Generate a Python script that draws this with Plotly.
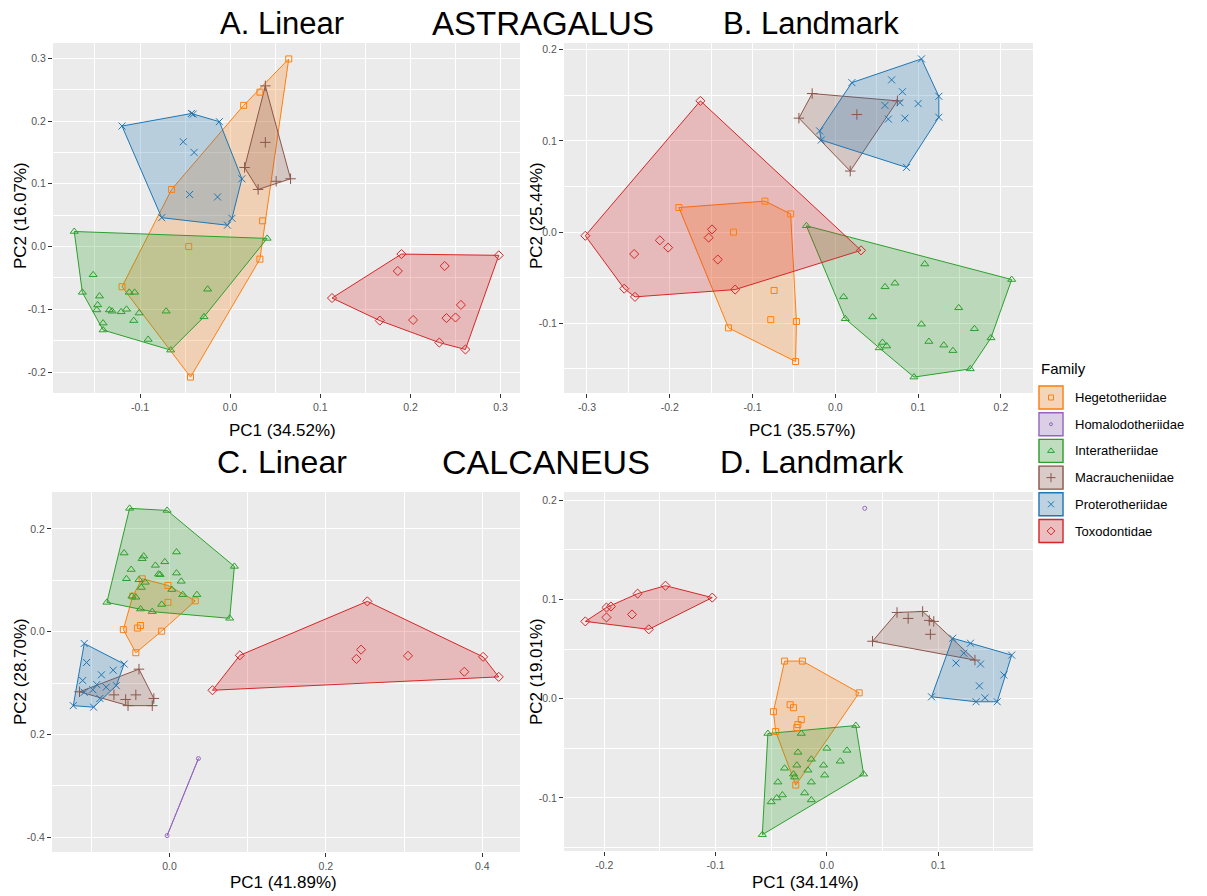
import plotly.graph_objects as go

W, H = 1207, 896

FAMILIES = ["Hegetotheriidae", "Homalodotheriidae", "Interatheriidae",
            "Macraucheniidae", "Proterotheriidae", "Toxodontidae"]
COLORS = ["#ff7f0e", "#9467bd", "#2ca02c", "#8c564b", "#1f77b4", "#d62728"]
SYMBOLS = ["square-open", "circle-open", "triangle-up-open",
           "cross-thin-open", "x-thin-open", "diamond-open"]
MSIZES = [6, 4, 7, 7.5, 7, 7]

# ---------------- A. Astragalus, linear measurements ----------------
A_HEG = [(0.065, 0.299), (0.015, 0.225), (0.033, 0.246), (-0.065, 0.091), (0.036, 0.041),
         (-0.046, 0.000), (0.033, -0.020), (-0.120, -0.064), (-0.044, -0.208)]
A_MAC = [(0.039, 0.256), (0.039, 0.166), (0.016, 0.126), (0.031, 0.091), (0.051, 0.104),
         (0.067, 0.108)]
A_PRO = [(-0.120, 0.192), (-0.043, 0.212), (-0.041, 0.211), (-0.012, 0.199), (-0.052, 0.167),
         (-0.040, 0.150), (0.013, 0.108), (-0.045, 0.083), (-0.014, 0.079), (-0.076, 0.046),
         (0.002, 0.045), (-0.003, 0.034)]
A_INT = [(-0.173, 0.024), (0.041, 0.013), (-0.152, -0.045), (-0.164, -0.073), (-0.145, -0.079),
         (-0.147, -0.093), (-0.148, -0.101), (-0.134, -0.101), (-0.131, -0.103), (-0.121, -0.104),
         (-0.115, -0.100), (-0.112, -0.073), (-0.106, -0.073), (-0.101, -0.106), (-0.107, -0.118),
         (-0.141, -0.122), (-0.141, -0.133), (-0.091, -0.148), (-0.066, -0.165), (-0.071, -0.103),
         (-0.029, -0.112), (-0.025, -0.068)]
A_TOX = [(0.113, -0.082), (0.190, -0.012), (0.298, -0.014), (0.186, -0.039), (0.238, -0.031),
         (0.256, -0.093), (0.250, -0.113), (0.240, -0.114), (0.203, -0.117), (0.166, -0.118),
         (0.232, -0.153), (0.261, -0.164)]

# ---------------- B. Astragalus, landmarks ----------------
B_HEG = [(-0.189, 0.027), (-0.085, 0.034), (-0.123, 0.000), (-0.054, 0.020), (-0.074, -0.064),
         (-0.078, -0.096), (-0.047, -0.098), (-0.129, -0.105), (-0.048, -0.142)]
B_INT = [(-0.035, 0.007), (0.213, -0.052), (0.108, -0.035), (0.010, -0.071), (0.060, -0.060),
         (0.072, -0.056), (0.012, -0.095), (0.045, -0.093), (0.104, -0.101), (0.149, -0.083),
         (0.168, -0.106), (0.113, -0.120), (0.131, -0.124), (0.142, -0.130), (0.188, -0.116),
         (0.057, -0.121), (0.062, -0.125), (0.053, -0.127), (0.163, -0.150), (0.095, -0.159)]
B_MAC = [(-0.028, 0.152), (-0.044, 0.125), (0.026, 0.129), (0.075, 0.144), (0.018, 0.067)]
B_PRO = [(0.020, 0.164), (0.104, 0.190), (0.125, 0.149), (0.125, 0.126), (0.086, 0.071),
         (-0.017, 0.101), (-0.019, 0.111), (0.068, 0.167), (0.081, 0.154), (0.078, 0.142),
         (0.100, 0.141), (0.060, 0.139), (0.064, 0.124), (0.084, 0.125)]
B_TOX = [(-0.302, -0.004), (-0.163, 0.144), (-0.212, -0.009), (-0.202, -0.017), (-0.243, -0.024),
         (-0.149, 0.003), (-0.153, -0.006), (-0.142, -0.030), (-0.255, -0.062), (-0.242, -0.071),
         (-0.121, -0.063), (0.031, -0.020)]

# ---------------- C. Calcaneus, linear measurements ----------------
C_HEG = [(-0.035, 0.103), (-0.002, 0.090), (0.033, 0.060), (-0.002, 0.057), (-0.047, 0.069),
         (-0.059, 0.004), (-0.037, 0.012), (-0.041, 0.007), (-0.010, 0.001), (-0.043, -0.041)]
C_HOM = [(0.037, -0.247), (-0.003, -0.397)]
C_INT = [(-0.051, 0.240), (-0.003, 0.236), (0.083, 0.127), (0.077, 0.026), (-0.080, 0.057),
         (-0.058, 0.153), (-0.033, 0.147), (-0.035, 0.142), (-0.006, 0.136), (0.009, 0.155),
         (-0.018, 0.129), (-0.049, 0.121), (-0.014, 0.112), (-0.012, 0.111), (0.009, 0.114),
         (-0.055, 0.103), (-0.039, 0.101), (0.015, 0.098), (-0.031, 0.096), (-0.036, 0.086),
         (0.003, 0.082), (0.017, 0.072), (0.035, 0.072), (-0.048, 0.069), (-0.043, 0.067),
         (-0.010, 0.053), (-0.037, 0.044), (-0.022, 0.039)]
C_MAC = [(-0.039, -0.073), (-0.115, -0.117), (-0.071, -0.123), (-0.056, -0.132), (-0.043, -0.123),
         (-0.020, -0.130), (-0.022, -0.144), (-0.053, -0.144)]
C_PRO = [(-0.109, -0.023), (-0.058, -0.063), (-0.106, -0.060), (-0.087, -0.084), (-0.072, -0.075),
         (-0.111, -0.095), (-0.093, -0.103), (-0.081, -0.108), (-0.068, -0.105), (-0.098, -0.113),
         (-0.109, -0.118), (-0.089, -0.130), (-0.123, -0.144), (-0.097, -0.147)]
C_TOX = [(0.055, -0.114), (0.090, -0.046), (0.253, 0.059), (0.401, -0.049), (0.421, -0.088),
         (0.245, -0.035), (0.239, -0.053), (0.305, -0.047), (0.377, -0.078)]

# ---------------- D. Calcaneus, landmarks ----------------
D_HEG = [(-0.038, 0.038), (-0.022, 0.038), (0.029, 0.006), (-0.048, -0.013), (-0.033, -0.006),
         (-0.030, -0.009), (-0.023, -0.021), (-0.026, -0.026), (-0.027, -0.029), (-0.046, -0.033),
         (-0.028, -0.087)]
D_HOM = [(0.034, 0.192)]
D_INT = [(-0.053, -0.035), (0.026, -0.027), (0.033, -0.076), (-0.058, -0.137), (-0.023, -0.035),
         (-0.026, -0.054), (0.000, -0.050), (0.018, -0.052), (-0.014, -0.061), (0.012, -0.063),
         (-0.027, -0.067), (-0.038, -0.070), (-0.017, -0.072), (-0.003, -0.067), (-0.030, -0.076),
         (-0.002, -0.077), (-0.029, -0.079), (-0.044, -0.084), (-0.014, -0.084), (-0.020, -0.095),
         (-0.040, -0.097), (-0.045, -0.100), (-0.050, -0.104), (-0.014, -0.102)]
D_MAC = [(0.063, 0.087), (0.086, 0.088), (0.073, 0.081), (0.092, 0.079), (0.096, 0.078),
         (0.093, 0.065), (0.041, 0.058), (0.133, 0.039)]
D_PRO = [(0.113, 0.061), (0.129, 0.056), (0.166, 0.044), (0.123, 0.046), (0.116, 0.036),
         (0.138, 0.035), (0.159, 0.024), (0.137, 0.013), (0.094, 0.002), (0.142, 0.001),
         (0.134, -0.003), (0.153, -0.003)]
D_TOX = [(-0.217, 0.078), (-0.198, 0.092), (-0.194, 0.093), (-0.198, 0.082), (-0.170, 0.106),
         (-0.145, 0.114), (-0.103, 0.102), (-0.175, 0.085), (-0.160, 0.070)]

# ---------------- tick values / labels ----------------
A_XTICKS = [-0.1, 0.0, 0.1, 0.2, 0.3]
A_XLABELS = ["-0.1", "0.0", "0.1", "0.2", "0.3"]
A_YTICKS = [-0.2, -0.1, 0.0, 0.1, 0.2, 0.3]
A_YLABELS = ["-0.2", "-0.1", "0.0", "0.1", "0.2", "0.3"]
B_XTICKS = [-0.3, -0.2, -0.1, 0.0, 0.1, 0.2]
B_XLABELS = ["-0.3", "-0.2", "-0.1", "0.0", "0.1", "0.2"]
B_YTICKS = [-0.1, 0.0, 0.1, 0.2]
B_YLABELS = ["-0.1", "0.0", "0.1", "0.2"]
C_XTICKS = [0.0, 0.2, 0.4]
C_XLABELS = ["0.0", "0.2", "0.4"]
C_YTICKS = [-0.4, -0.2, 0.0, 0.2]
C_YLABELS = ["-0.4", "0.2", "0.0", "0.2"]
D_XTICKS = [-0.2, -0.1, 0.0, 0.1]
D_XLABELS = ["-0.2", "-0.1", "0.0", "0.1"]
D_YTICKS = [-0.1, 0.0, 0.1, 0.2]
D_YLABELS = ["-0.1", "0.0", "0.1", "0.2"]


def convex_hull(points):
    pts = sorted(set(points))
    if len(pts) <= 2:
        return pts

    def cross(o, a, b):
        return (a[0] - o[0]) * (b[1] - o[1]) - (a[1] - o[1]) * (b[0] - o[0])

    lower, upper = [], []
    for p in pts:
        while len(lower) >= 2 and cross(lower[-2], lower[-1], p) <= 0:
            lower.pop()
        lower.append(p)
    for p in reversed(pts):
        while len(upper) >= 2 and cross(upper[-2], upper[-1], p) <= 0:
            upper.pop()
        upper.append(p)
    return lower[:-1] + upper[:-1]


def rgba(hex_color, alpha):
    h = hex_color.lstrip("#")
    r, g, b = int(h[0:2], 16), int(h[2:4], 16), int(h[4:6], 16)
    return f"rgba({r},{g},{b},{alpha})"


def expanded(vals, frac=0.05):
    lo, hi = min(vals), max(vals)
    pad = (hi - lo) * frac
    return [lo - pad, hi + pad]


def px_x(x):
    return x / W


def px_y(y):
    return 1 - y / H


panels = [
    dict(groups={"Hegetotheriidae": A_HEG, "Interatheriidae": A_INT, "Macraucheniidae": A_MAC,
                 "Proterotheriidae": A_PRO, "Toxodontidae": A_TOX},
         xt=(A_XTICKS, A_XLABELS), yt=(A_YTICKS, A_YLABELS), mx=0.05, my=0.05,
         dom=(53, 520, 43, 393)),
    dict(groups={"Hegetotheriidae": B_HEG, "Interatheriidae": B_INT, "Macraucheniidae": B_MAC,
                 "Proterotheriidae": B_PRO, "Toxodontidae": B_TOX},
         xt=(B_XTICKS, B_XLABELS), yt=(B_YTICKS, B_YLABELS), mx=0.05, my=0.05,
         dom=(564, 1033, 43, 393)),
    dict(groups={"Hegetotheriidae": C_HEG, "Homalodotheriidae": C_HOM, "Interatheriidae": C_INT,
                 "Macraucheniidae": C_MAC, "Proterotheriidae": C_PRO, "Toxodontidae": C_TOX},
         xt=(C_XTICKS, C_XLABELS), yt=(C_YTICKS, C_YLABELS), mx=0.1, my=0.1,
         dom=(52, 520, 492, 852)),
    dict(groups={"Hegetotheriidae": D_HEG, "Homalodotheriidae": D_HOM, "Interatheriidae": D_INT,
                 "Macraucheniidae": D_MAC, "Proterotheriidae": D_PRO, "Toxodontidae": D_TOX},
         xt=(D_XTICKS, D_XLABELS), yt=(D_YTICKS, D_YLABELS), mx=0.05, my=0.05,
         dom=(564, 1033, 492, 851)),
]

FONT = "Liberation Sans, Arial, sans-serif"
TICKFONT = dict(family=FONT, size=10.5, color="#555555")

fig = go.Figure()
layout = dict(width=W, height=H, margin=dict(l=0, r=0, t=0, b=0),
              paper_bgcolor="white", plot_bgcolor="rgba(0,0,0,0)", showlegend=False,
              font=dict(family=FONT, color="black"))
shapes = []

for i, p in enumerate(panels, start=1):
    suffix = "" if i == 1 else str(i)
    xa, ya = "x" + suffix, "y" + suffix
    all_x = [pt[0] for pts in p["groups"].values() for pt in pts]
    all_y = [pt[1] for pts in p["groups"].values() for pt in pts]

    # hulls first, then the specimens on top
    for fam, pts in p["groups"].items():
        k = FAMILIES.index(fam)
        hull = convex_hull(pts)
        if len(hull) >= 2:
            hx = [h[0] for h in hull] + [hull[0][0]]
            hy = [h[1] for h in hull] + [hull[0][1]]
            fig.add_trace(go.Scatter(x=hx, y=hy, mode="lines", fill="toself",
                                     fillcolor=rgba(COLORS[k], 0.25),
                                     line=dict(color=COLORS[k], width=1),
                                     hoverinfo="skip", xaxis=xa, yaxis=ya))
    for fam, pts in p["groups"].items():
        k = FAMILIES.index(fam)
        fig.add_trace(go.Scatter(x=[q[0] for q in pts], y=[q[1] for q in pts], mode="markers",
                                 name=fam,
                                 marker=dict(symbol=SYMBOLS[k], size=MSIZES[k],
                                             color=COLORS[k], line=dict(color=COLORS[k], width=1)),
                                 xaxis=xa, yaxis=ya))

    x0, x1, y0, y1 = p["dom"]
    common = dict(showgrid=True, gridcolor="white", gridwidth=1.3, zeroline=False,
                  showline=False, ticks="outside", ticklen=4, tickwidth=1,
                  tickcolor="#333333", tickfont=TICKFONT, tickmode="array",
                  automargin=False, layer="below traces")
    layout["xaxis" + suffix] = dict(common, domain=[px_x(x0), px_x(x1)], range=expanded(all_x),
                                    tickvals=p["xt"][0], ticktext=p["xt"][1], anchor=ya,
                                    minor=dict(tickmode="linear", tick0=0, dtick=p["mx"],
                                               showgrid=True, gridcolor="white", gridwidth=0.6,
                                               ticks=""))
    layout["yaxis" + suffix] = dict(common, domain=[px_y(y1), px_y(y0)], range=expanded(all_y),
                                    tickvals=p["yt"][0], ticktext=p["yt"][1], anchor=xa,
                                    minor=dict(tickmode="linear", tick0=0, dtick=p["my"],
                                               showgrid=True, gridcolor="white", gridwidth=0.6,
                                               ticks=""))
    shapes.append(dict(type="rect", xref=f"{xa} domain", yref=f"{ya} domain",
                       x0=0, x1=1, y0=0, y1=1, fillcolor="#ebebeb",
                       line=dict(width=0), layer="below"))

# ---------------- legend (drawn on a pixel-scaled helper axis) ----------------
LEG_X0, LEG_X1, LEG_Y0, LEG_Y1 = 1036, 1207, 350, 550
layout["xaxis5"] = dict(domain=[px_x(LEG_X0), px_x(LEG_X1)], range=[LEG_X0, LEG_X1],
                        visible=False, fixedrange=True, anchor="y5", showgrid=False)
layout["yaxis5"] = dict(domain=[px_y(LEG_Y1), px_y(LEG_Y0)], range=[LEG_Y1, LEG_Y0],
                        visible=False, fixedrange=True, anchor="x5", showgrid=False)
key_cx, key_half, pitch, first_cy = 1051, 12.5, 26.7, 397.5
key_y = [first_cy + j * pitch for j in range(len(FAMILIES))]
for j, fam in enumerate(FAMILIES):
    cy = key_y[j]
    shapes.append(dict(type="rect", xref="x5", yref="y5",
                       x0=key_cx - key_half - 0.5, x1=key_cx + key_half + 0.5,
                       y0=cy - key_half, y1=cy + key_half,
                       fillcolor="#f2f2f2", line=dict(width=0), layer="below"))
    shapes.append(dict(type="rect", xref="x5", yref="y5",
                       x0=key_cx - key_half + 0.5, x1=key_cx + key_half - 0.5,
                       y0=cy - key_half + 1, y1=cy + key_half - 1,
                       fillcolor=rgba(COLORS[j], 0.25),
                       line=dict(color=COLORS[j], width=1.4), layer="below"))
    fig.add_trace(go.Scatter(x=[key_cx], y=[cy], mode="markers", hoverinfo="skip",
                             marker=dict(symbol=SYMBOLS[j], size=MSIZES[j] - 1, color=COLORS[j],
                                         line=dict(color=COLORS[j], width=1)),
                             xaxis="x5", yaxis="y5"))

annotations = []


def label(text, x, y, size, angle=0, xanchor="center"):
    annotations.append(dict(text=text, x=px_x(x), y=px_y(y), xref="paper", yref="paper",
                            showarrow=False, xanchor=xanchor, yanchor="middle",
                            textangle=angle, font=dict(family=FONT, size=size, color="black")))


for j, fam in enumerate(FAMILIES):
    label(fam, 1073, key_y[j], 13, xanchor="left")
label("Family", 1039, 368, 15, xanchor="left")

# panel and bone titles
label("A. Linear", 282, 23, 31)
label("ASTRAGALUS", 543, 23, 33)
label("B. Landmark", 811, 23, 31)
label("C. Linear", 282, 462, 32)
label("CALCANEUS", 546, 462, 34)
label("D. Landmark", 812, 462, 32)

# axis titles
label("PC1 (34.52%)", 282, 430, 17)
label("PC1 (35.57%)", 802, 430, 17)
label("PC1 (41.89%)", 283, 882, 17)
label("PC1 (34.14%)", 806, 882, 17)
label("PC2 (16.07%)", 20, 216, 17, angle=-90)
label("PC2 (25.44%)", 536, 216, 17, angle=-90)
label("PC2 (28.70%)", 20, 672, 17, angle=-90)
label("PC2 (19.01%)", 536, 672, 17, angle=-90)

layout["shapes"] = shapes
layout["annotations"] = annotations
fig.update_layout(**layout)
fig.write_html("out.html")
